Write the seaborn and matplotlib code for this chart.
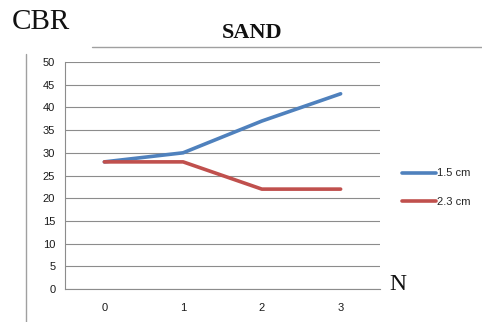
import matplotlib
matplotlib.use("Agg")
import matplotlib.pyplot as plt
from matplotlib.lines import Line2D
import seaborn as sns
import pandas as pd

# CBR values for sand at each N, for two layer thicknesses
n_values = [0, 1, 2, 3]
cbr_15cm = [28, 30, 37, 43]
cbr_23cm = [28, 28, 22, 22]
series_names = ["1.5 cm", "2.3 cm"]
y_ticks = [0, 5, 10, 15, 20, 25, 30, 35, 40, 45, 50]

df = pd.DataFrame({
    "N": n_values * 2,
    "CBR": cbr_15cm + cbr_23cm,
    "series": [series_names[0]] * 4 + [series_names[1]] * 4,
})

sns.set_style("white")
plt.rcParams["font.family"] = ["Liberation Sans", "DejaVu Sans"]

fig = plt.figure(figsize=(4.82, 3.22), dpi=100)
ax = fig.add_axes([65 / 482, 1 - 289 / 322, 315 / 482, 227 / 322])

palette = {series_names[0]: "#4F81BD", series_names[1]: "#C0504D"}
sns.lineplot(data=df, x="N", y="CBR", hue="series", palette=palette,
             linewidth=2.6, ax=ax, legend=False, zorder=3)

ax.set_xlim(-0.5, 3.5)
ax.set_ylim(0, 50)
ax.set_yticks(y_ticks)
ax.set_xticks(n_values)
ax.set_xticks([-0.5, 0.5, 1.5, 2.5, 3.5], minor=True)
ax.tick_params(axis="x", which="major", length=0, pad=10, labelsize=8, colors="#1a1a1a")
ax.tick_params(axis="x", which="minor", length=4, width=0.8, color="#888888", direction="out")
ax.tick_params(axis="y", length=4, width=0.8, color="#888888", direction="out",
               labelsize=8, labelcolor="#1a1a1a", pad=3)
ax.yaxis.grid(True, color="#8c8c8c", linewidth=0.8)
ax.set_axisbelow(True)
ax.set_xlabel("")
ax.set_ylabel("")
for side in ["top", "right"]:
    ax.spines[side].set_visible(False)
for side in ["left", "bottom"]:
    ax.spines[side].set_color("#8c8c8c")
    ax.spines[side].set_linewidth(0.8)

handles = [Line2D([0], [0], color=palette[s], linewidth=2.6) for s in series_names]
fig.legend(handles, series_names, loc="upper left", bbox_to_anchor=(398 / 482, 1 - 164 / 322),
           frameon=False, fontsize=8, handlelength=3.0, handletextpad=0.1,
           labelspacing=1.65, borderaxespad=0)

# surrounding labels and rules
fig.text(12 / 482, 1 - 22 / 322, "CBR", fontsize=21, family="Liberation Serif",
         va="center", ha="left", color="#111111")
fig.text(252 / 482, 1 - 33 / 322, "SAND", fontsize=16, family="Liberation Serif",
         fontweight="bold", va="center", ha="center", color="#111111")
fig.text(389 / 482, 1 - 285 / 322, "N", fontsize=17, family="Liberation Serif",
         va="center", ha="left", color="#111111")
fig.add_artist(Line2D([92 / 482, 1.0], [1 - 47 / 322, 1 - 47 / 322],
                      color="#a0a0a0", linewidth=1.0))
fig.add_artist(Line2D([26 / 482, 26 / 482], [0, 1 - 54 / 322],
                      color="#a0a0a0", linewidth=1.0))

fig.savefig("out.png", dpi=100)
